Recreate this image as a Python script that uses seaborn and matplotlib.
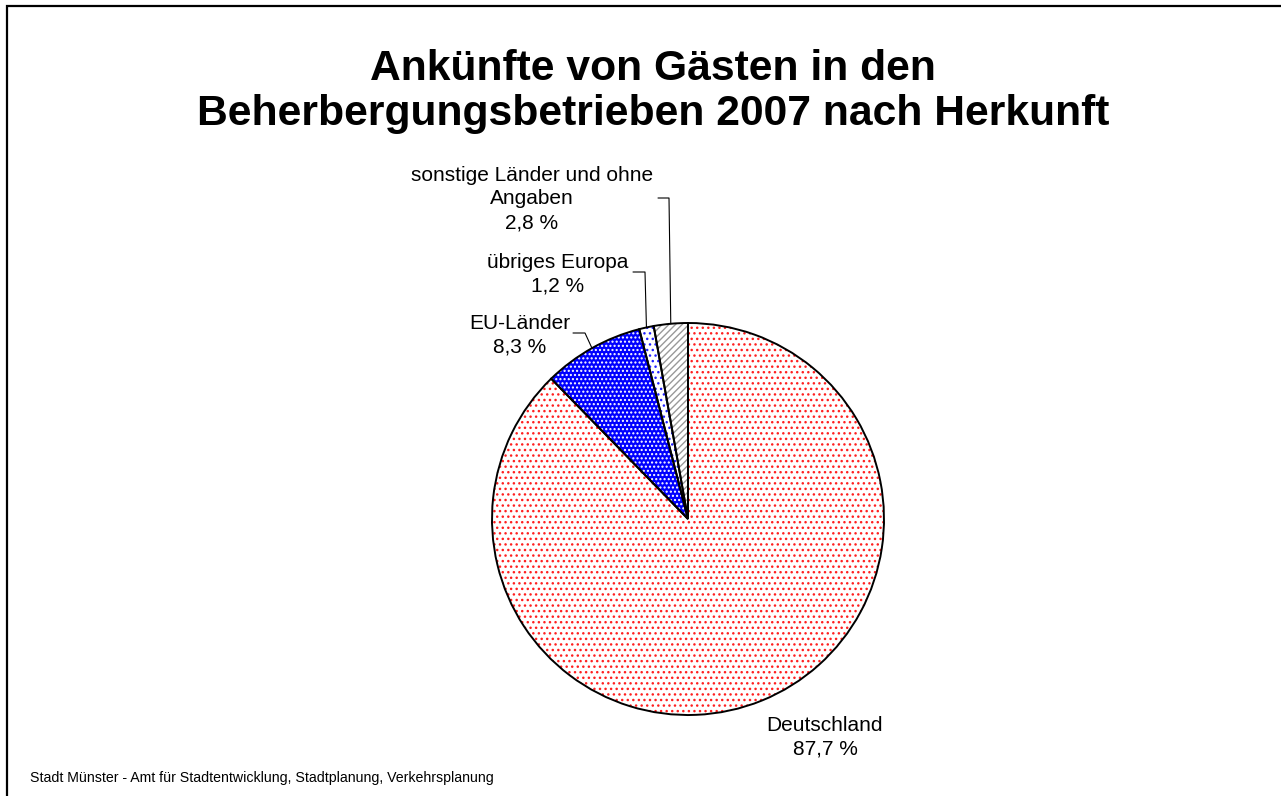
"""Pie chart: Ankünfte von Gästen in den Beherbergungsbetrieben 2007 nach Herkunft."""

import matplotlib

matplotlib.use("Agg")
import matplotlib.pyplot as plt
import numpy as np
import seaborn as sns
from matplotlib.patches import Rectangle

sns.set_theme(style="white")
plt.rcParams["font.family"] = ["Liberation Sans", "DejaVu Sans"]
plt.rcParams["hatch.linewidth"] = 1.0

# data (clockwise from 12 o'clock)
origins = ["Deutschland", "EU-Länder", "übriges Europa", "sonstige Länder und ohne\nAngaben"]
shares = [87.7, 8.3, 1.2, 2.8]
share_labels = ["87,7 %", "8,3 %", "1,2 %", "2,8 %"]

# fill styles per slice
face_colors = ["white", "#0000ff", "white", "white"]
hatch_colors = ["#ff2020", "white", "#2020ff", "#999999"]
hatches = ["...", "....", "...", "/////"]

W, H = 1281, 796
CX, CY, R = 688, 519, 196

fig = plt.figure(figsize=(W / 100, H / 100), dpi=100)
ax = fig.add_axes([0, 0, 1, 1])

# hatched fill layer
wedges, _ = ax.pie(shares, startangle=90, counterclock=False, center=(CX, H - CY),
                   radius=R, frame=True, wedgeprops=dict(linewidth=0))
for w, fc, hc, ht in zip(wedges, face_colors, hatch_colors, hatches):
    w.set_facecolor(fc)
    w.set_edgecolor(hc)
    w.set_hatch(ht)

# outline layer
ax.pie(shares, startangle=90, counterclock=False, center=(CX, H - CY), radius=R,
       frame=True, colors=["none"] * len(shares),
       wedgeprops=dict(edgecolor="black", linewidth=1.4))
ax.set_xlim(0, W)
ax.set_ylim(0, H)
ax.set_aspect("equal")
ax.axis("off")

# label placement (text centre, elbow point, text-side end of leader)
label_pos = [(825, 737), (520, 335), (558, 274), (532, 199)]
elbows = [None, (585, 333), (645, 272), (669, 198)]
line_ends = [None, (573, 333), (633, 272), (658, 198)]

for i, (w, name, pct) in enumerate(zip(wedges, origins, share_labels)):
    tx, ty = label_pos[i]
    ax.text(tx, H - ty, f"{name}\n{pct}", ha="center", va="center",
            fontsize=15, linespacing=1.33, color="black")
    if elbows[i] is None:
        continue
    mid = np.deg2rad((w.theta1 + w.theta2) / 2)
    ex, ey = CX + R * np.cos(mid), (H - CY) + R * np.sin(mid)
    bx, by = elbows[i]
    lx, ly = line_ends[i]
    ax.plot([ex, bx, lx], [ey, H - by, H - ly], color="black", linewidth=0.8)

fig.text(653 / W, 1 - 91.5 / H, "Ankünfte von Gästen in den\nBeherbergungsbetrieben 2007 nach Herkunft",
         ha="center", va="center", fontsize=30.7, fontweight="bold", linespacing=1.17,
         color="black")

fig.text(30 / W, 1 - 778 / H,
         "Stadt Münster - Amt für Stadtentwicklung, Stadtplanung, Verkehrsplanung",
         ha="left", va="center", fontsize=10.2, color="black")

# chart frame (only top and left edges fall inside the picture)
ax.add_patch(Rectangle((7, -20), W + 40, H - 6 + 20, fill=False,
                       edgecolor="black", linewidth=1.6, clip_on=False))

fig.savefig("out.png", dpi=100)
